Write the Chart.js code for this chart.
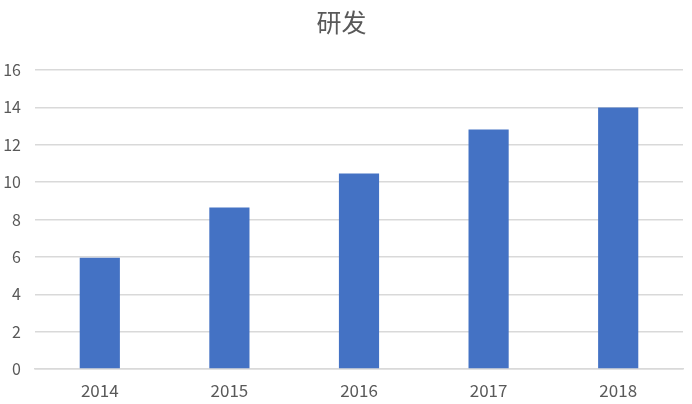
<!DOCTYPE html>
<html>
<head>
<meta charset="utf-8">
<script src="https://cdn.jsdelivr.net/npm/chart.js@4/dist/chart.umd.min.js"></script>
<style>
  html, body { margin: 0; padding: 0; background: #fff; }
  #wrap { width: 692px; height: 404px; }
</style>
</head>
<body>
<div id="wrap"><canvas id="myChart"></canvas></div>
<script>
// data
var Anios = ["2014", "2015", "2016", "2017", "2018"];
var Valores = [5.95, 8.64, 10.46, 12.82, 14.0];
var Titulo = "研发";

var fuente = "'Noto Sans CJK SC', 'Noto Sans', sans-serif";

var myChart = new Chart(document.getElementById('myChart'), {
    type: 'bar',
    data: {
        labels: Anios,
        datasets: [{
            label: Titulo,
            data: Valores,
            backgroundColor: '#4472C4',
            categoryPercentage: 0.31,
            barPercentage: 1.0
        }]
    },
    options: {
        responsive: true,
        maintainAspectRatio: false,
        animation: false,
        layout: { padding: { left: 0, right: 9, top: 0, bottom: 0 } },
        plugins: {
            legend: { display: false },
            tooltip: { enabled: false },
            title: {
                display: true,
                text: Titulo,
                color: '#595959',
                font: { family: fuente, size: 25, weight: 'normal' },
                padding: { top: 7, bottom: 33 }
            }
        },
        scales: {
            x: {
                grid: { display: false, drawTicks: false },
                border: { display: true, color: '#d9d9d9', width: 1.5 },
                ticks: { color: '#595959', font: { family: fuente, size: 17 }, padding: 11 },
                afterFit: function (s) { s.height = 35; }
            },
            y: {
                min: 0,
                max: 16,
                ticks: { stepSize: 2, color: '#595959', font: { family: fuente, size: 16 }, padding: 14 },
                grid: { color: '#d9d9d9', lineWidth: 1.5, drawTicks: false },
                border: { display: false },
                afterFit: function (s) { s.width = 35; }
            }
        }
    }
});
</script>
</body>
</html>
